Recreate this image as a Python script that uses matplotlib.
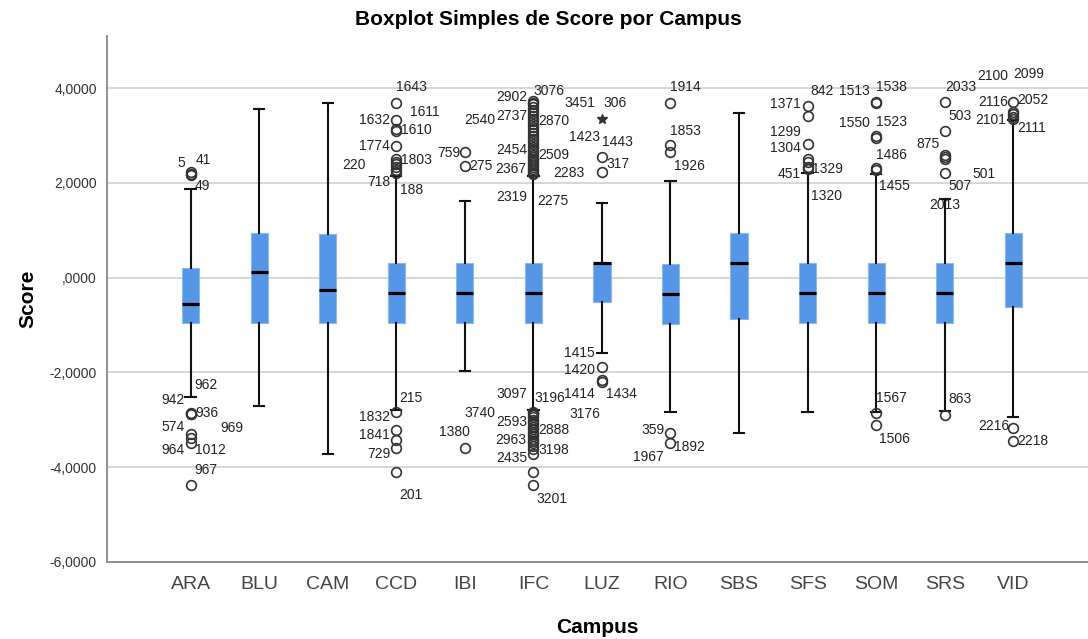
import matplotlib
matplotlib.use('Agg')
import matplotlib.pyplot as plt
from matplotlib.ticker import FuncFormatter

plt.rcParams['font.family'] = ['Liberation Sans', 'DejaVu Sans']

# Campus categories and box statistics
campuses = ['ARA', 'BLU', 'CAM', 'CCD', 'IBI', 'IFC', 'LUZ', 'RIO', 'SBS', 'SFS', 'SOM', 'SRS', 'VID']
q1 = [-0.96, -0.96, -0.96, -0.95, -0.95, -0.95, -0.52, -0.97, -0.87, -0.95, -0.95, -0.95, -0.61]
medians = [-0.55, 0.11, -0.25, -0.32, -0.32, -0.32, 0.32, -0.35, 0.31, -0.32, -0.32, -0.32, 0.31]
q3 = [0.20, 0.94, 0.92, 0.31, 0.31, 0.31, 0.32, 0.28, 0.94, 0.31, 0.31, 0.31, 0.94]
whis_lo = [-2.52, -2.72, -3.72, -2.80, -1.97, -2.80, -1.59, -2.84, -3.28, -2.84, -2.83, -2.82, -2.95]
whis_hi = [1.87, 3.56, 3.69, 2.15, 1.62, 2.15, 1.58, 2.04, 3.47, 2.22, 2.20, 1.67, 3.33]

# Outliers (circles) per campus
outliers = {
    'ARA': [2.23, 2.19, 2.16, -2.85, -2.87, -2.89, -3.30, -3.38, -3.50, -4.39],
    'BLU': [],
    'CAM': [],
    'CCD': [3.70, 3.33, 3.15, 3.10, 2.78, 2.50, 2.45, 2.40, 2.34, 2.28, 2.22,
            -2.83, -3.21, -3.42, -3.60, -4.10],
    'IBI': [2.65, 2.35, -3.59],
    'IFC': [2.18, 2.22, 2.26, 2.30, 2.34, 2.38, 2.42, 2.46, 2.50, 2.55, 2.60, 2.65,
            2.70, 2.76, 2.82, 2.88, 2.94, 3.00, 3.06, 3.12, 3.18, 3.24, 3.30, 3.36,
            3.42, 3.48, 3.54, 3.60, 3.66, 3.70, 3.74,
            -2.83, -2.86, -2.90, -2.95, -3.00, -3.05, -3.10, -3.15, -3.20, -3.25,
            -3.30, -3.35, -3.40, -3.45, -3.50, -3.56, -3.62, -3.72, -4.10, -4.39],
    'LUZ': [2.55, 2.24, -1.88, -2.16, -2.21],
    'RIO': [3.69, 2.80, 2.66, -3.28, -3.50],
    'SBS': [],
    'SFS': [3.62, 3.41, 2.82, 2.50, 2.44, 2.34, 2.29],
    'SOM': [3.72, 3.69, 2.99, 2.96, 2.31, 2.27, -2.85, -3.12],
    'SRS': [3.71, 3.10, 2.60, 2.55, 2.51, 2.22, -2.90],
    'VID': [3.71, 3.50, 3.45, 3.40, 3.36, -3.17, -3.44],
}
# Extreme values (stars)
extremes = {'LUZ': [3.35]}

# Case labels: (text, y value, horizontal offset from the campus)
case_labels = {
    'ARA': [('5', 2.43, -0.13), ('41', 2.48, 0.18), ('49', 1.94, 0.17),
            ('962', -2.26, 0.22), ('942', -2.58, -0.25), ('936', -2.85, 0.24),
            ('574', -3.16, -0.26), ('969', -3.17, 0.60), ('964', -3.65, -0.26),
            ('1012', -3.65, 0.29), ('967', -4.06, 0.22)],
    'CCD': [('1643', 4.02, 0.22), ('1632', 3.34, -0.32), ('1611', 3.49, 0.42),
            ('1610', 3.11, 0.30), ('1774', 2.78, -0.32), ('220', 2.37, -0.61),
            ('1803', 2.48, 0.30), ('718', 2.02, -0.26), ('188', 1.86, 0.22),
            ('215', -2.54, 0.22), ('1832', -2.95, -0.32), ('1841', -3.33, -0.32),
            ('729', -3.72, -0.26), ('201', -4.59, 0.21)],
    'IBI': [('759', 2.63, -0.23), ('275', 2.35, 0.23), ('1380', -3.26, -0.15),
            ('3740', -2.86, 0.22)],
    'IFC': [('2902', 3.82, -0.31), ('3076', 3.94, 0.23), ('3451', 3.69, 0.68),
            ('2540', 3.33, -0.78), ('2737', 3.41, -0.31), ('2870', 3.30, 0.30),
            ('2454', 2.69, -0.31), ('2509', 2.60, 0.30), ('2367', 2.30, -0.33),
            ('2283', 2.21, 0.52), ('2319', 1.70, -0.31), ('2275', 1.63, 0.29),
            ('3097', -2.45, -0.31), ('3196', -2.54, 0.24), ('2593', -3.05, -0.31),
            ('2888', -3.21, 0.30), ('2963', -3.42, -0.33), ('3198', -3.65, 0.30),
            ('2435', -3.81, -0.31), ('3201', -4.67, 0.27), ('3176', -2.88, 0.75)],
    'LUZ': [('306', 3.68, 0.19), ('1423', 2.97, -0.26), ('1443', 2.87, 0.22),
            ('317', 2.41, 0.24), ('1415', -1.59, -0.33), ('1420', -1.96, -0.33),
            ('1414', -2.45, -0.33), ('1434', -2.45, 0.28)],
    'RIO': [('1914', 4.02, 0.22), ('1853', 3.10, 0.22), ('1926', 2.35, 0.28),
            ('359', -3.21, -0.26), ('1892', -3.57, 0.28), ('1967', -3.79, -0.32)],
    'SFS': [('842', 3.95, 0.21), ('1371', 3.66, -0.33), ('1299', 3.08, -0.33),
            ('1304', 2.73, -0.33), ('451', 2.18, -0.27), ('1329', 2.30, 0.29),
            ('1320', 1.72, 0.27)],
    'SOM': [('1513', 3.95, -0.32), ('1538', 4.03, 0.22), ('1550', 3.26, -0.32),
            ('1523', 3.28, 0.22), ('1486', 2.60, 0.22), ('1455', 1.93, 0.27),
            ('1567', -2.54, 0.22), ('1506', -3.40, 0.27)],
    'SRS': [('2033', 4.02, 0.23), ('503', 3.41, 0.23), ('875', 2.82, -0.25),
            ('501', 2.20, 0.58), ('507', 1.94, 0.22), ('2013', 1.54, 0.0),
            ('863', -2.56, 0.22)],
    'VID': [('2100', 4.26, -0.30), ('2099', 4.31, 0.23), ('2116', 3.71, -0.30),
            ('2052', 3.75, 0.29), ('2101', 3.33, -0.33), ('2111', 3.17, 0.27),
            ('2216', -3.14, -0.29), ('2218', -3.44, 0.29)],
}

stats = []
for i, c in enumerate(campuses):
    stats.append({'med': medians[i], 'q1': q1[i], 'q3': q3[i],
                  'whislo': whis_lo[i], 'whishi': whis_hi[i],
                  'fliers': outliers[c], 'label': c})

fig = plt.figure(figsize=(10.88, 6.39), dpi=100)
ax = fig.add_axes([0.098, 0.121, 0.902, 0.823])

positions = list(range(len(campuses)))
ax.bxp(stats, positions=positions, widths=0.25, patch_artist=True,
       capwidths=0.15,
       boxprops=dict(facecolor='#5596e6', edgecolor='#8ab8ef', linewidth=0.8),
       medianprops=dict(color='black', linewidth=2.3),
       whiskerprops=dict(color='#111111', linewidth=1.5),
       capprops=dict(color='#111111', linewidth=1.5),
       flierprops=dict(marker='o', markerfacecolor='none', markeredgecolor='#333333',
                       markersize=7, markeredgewidth=1.2),
       zorder=3)

for c, vals in extremes.items():
    i = campuses.index(c)
    ax.plot([i] * len(vals), vals, linestyle='none', marker='*', color='#333333',
            markersize=7, zorder=4)

for c, labs in case_labels.items():
    i = campuses.index(c)
    for txt, y, dx in labs:
        ax.text(i + dx, y, txt, ha='center', va='center', fontsize=10,
                color='#222222', zorder=5)

ax.set_xlim(-1.225, 13.09)
ax.set_ylim(-6, 5.11)
ax.set_yticks([-6, -4, -2, 0, 2, 4])


def fmt(v, pos):
    s = f'{v:.4f}'.replace('.', ',')
    if s.startswith('0,'):
        s = s[1:]
    return s


ax.yaxis.set_major_formatter(FuncFormatter(fmt))
ax.set_xticks(positions)
ax.set_xticklabels(campuses)
ax.yaxis.grid(True, color='#d0d0d0', linewidth=1.2, zorder=0)
ax.set_axisbelow(True)
ax.tick_params(axis='y', length=0, pad=7, labelsize=10, labelcolor='#333333')
ax.tick_params(axis='x', length=0, pad=10, labelsize=14, labelcolor='#444444')
for s in ['top', 'right']:
    ax.spines[s].set_visible(False)
for s in ['left', 'bottom']:
    ax.spines[s].set_color('#888888')
    ax.spines[s].set_linewidth(1.3)

ax.set_xlabel('Campus', fontsize=15, fontweight='bold', labelpad=18)
ax.set_ylabel('Score', fontsize=15, fontweight='bold', labelpad=9)
fig.text(0.504, 0.970, 'Boxplot Simples de Score por Campus', ha='center', va='center',
         fontsize=15, fontweight='bold')

fig.savefig('out.png', dpi=100)
